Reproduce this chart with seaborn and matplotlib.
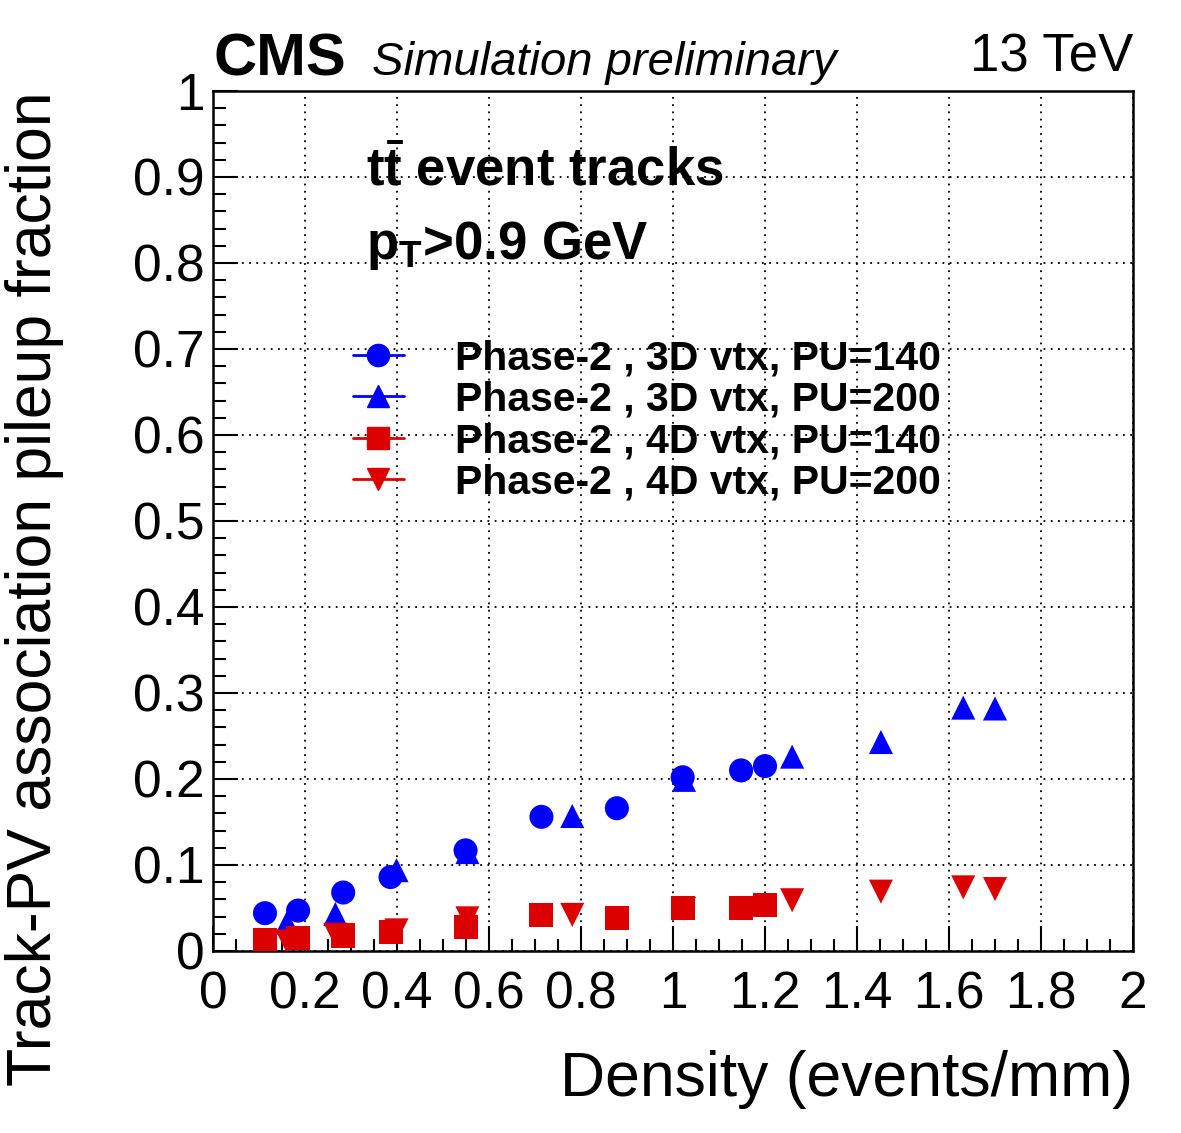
import matplotlib
matplotlib.use('Agg')
import matplotlib.pyplot as plt
from matplotlib.lines import Line2D
from matplotlib.ticker import MultipleLocator, FormatStrFormatter
import numpy as np
import pandas as pd
import seaborn as sns

# values
x_pu140 = [0.113, 0.185, 0.283, 0.386, 0.549, 0.714, 0.878, 1.021, 1.148, 1.200]
x_pu200 = [0.161, 0.266, 0.399, 0.553, 0.781, 1.024, 1.259, 1.452, 1.631, 1.700]
frac_3d_pu140 = [0.044, 0.047, 0.068, 0.086, 0.117, 0.156, 0.166, 0.202, 0.210, 0.215]
frac_3d_pu200 = [0.033, 0.043, 0.094, 0.115, 0.157, 0.199, 0.226, 0.243, 0.283, 0.282]
frac_4d_pu140 = [0.013, 0.015, 0.018, 0.022, 0.028, 0.042, 0.038, 0.050, 0.050, 0.053]
frac_4d_pu200 = [0.011, 0.019, 0.024, 0.038, 0.042, 0.049, 0.059, 0.069, 0.074, 0.072]

labels = ['Phase-2 , 3D vtx, PU=140', 'Phase-2 , 3D vtx, PU=200',
          'Phase-2 , 4D vtx, PU=140', 'Phase-2 , 4D vtx, PU=200']
colors = {labels[0]: '#0000ff', labels[1]: '#0000ff',
          labels[2]: '#dd0000', labels[3]: '#dd0000'}
markers = {labels[0]: 'o', labels[1]: '^', labels[2]: 's', labels[3]: 'v'}

df = pd.concat([
    pd.DataFrame({'density': x_pu140, 'frac': frac_3d_pu140, 'series': labels[0]}),
    pd.DataFrame({'density': x_pu200, 'frac': frac_3d_pu200, 'series': labels[1]}),
    pd.DataFrame({'density': x_pu140, 'frac': frac_4d_pu140, 'series': labels[2]}),
    pd.DataFrame({'density': x_pu200, 'frac': frac_4d_pu200, 'series': labels[3]}),
], ignore_index=True)

sns.set_style('ticks')
plt.rcParams['font.family'] = ['Liberation Sans', 'DejaVu Sans']
plt.rcParams['mathtext.fontset'] = 'custom'
plt.rcParams['mathtext.rm'] = 'Liberation Sans'
plt.rcParams['mathtext.bf'] = 'Liberation Sans:bold'
for key in ['text.color', 'axes.labelcolor', 'xtick.color', 'ytick.color',
            'xtick.labelcolor', 'ytick.labelcolor']:
    plt.rcParams[key] = 'black'

fig = plt.figure(figsize=(11.81, 11.33), dpi=100)
ax = fig.add_axes([213/1181, 1-951/1133, 920/1181, 860/1133])

sns.scatterplot(data=df, x='density', y='frac', hue='series', style='series',
                palette=colors, markers=markers, s=300, linewidth=0,
                legend=False, ax=ax, zorder=3)

ax.set_xlim(0, 2)
ax.set_ylim(0, 1)
ax.xaxis.set_major_locator(MultipleLocator(0.2))
ax.xaxis.set_minor_locator(MultipleLocator(0.05))
ax.yaxis.set_major_locator(MultipleLocator(0.1))
ax.yaxis.set_minor_locator(MultipleLocator(0.02))
ax.xaxis.set_major_formatter(FormatStrFormatter('%g'))
ax.yaxis.set_major_formatter(FormatStrFormatter('%g'))
ax.tick_params(which='both', direction='in', width=1.5, labelsize=37, color='black')
ax.tick_params(axis='x', which='major', length=18, pad=14)
ax.tick_params(axis='x', which='minor', length=9)
ax.tick_params(axis='y', which='major', length=18, pad=6)
ax.tick_params(axis='y', which='minor', length=9)
ax.grid(True, which='major', color='black', linestyle=(0, (1, 3)), linewidth=1.3)
for sp in ax.spines.values():
    sp.set_linewidth(1.8)
    sp.set_color('black')

ax.set_xlabel('Density (events/mm)', fontsize=45, loc='right')
ax.set_ylabel('Track-PV association pileup fraction', fontsize=45, loc='top')
ax.xaxis.set_label_coords(1.0, -0.115)
ax.yaxis.set_label_coords(-0.162, 1.0)

# header
fig.text(213/1181, 1-75/1133, 'CMS', fontsize=43, fontweight='bold', ha='left', va='baseline')
fig.text(372/1181, 1-75/1133, 'Simulation preliminary', fontsize=34, style='italic',
         ha='left', va='baseline')
fig.text(1133/1181, 1-72/1133, '13 TeV', fontsize=38, ha='right', va='baseline')

# in-plot labels
ax.text(0.166, 0.89, r'$\mathbf{t\bar{t}}$ event tracks', transform=ax.transAxes,
        fontsize=38, fontweight='bold', ha='left', va='baseline')
ax.text(0.166, 0.805, r'$\mathbf{p_{T}}$>0.9 GeV', transform=ax.transAxes,
        fontsize=38, fontweight='bold', ha='left', va='baseline')

handles = [Line2D([], [], color=colors[l], marker=markers[l], markersize=16,
                  linewidth=2, linestyle='-', label=l) for l in labels]
ax.legend(handles=handles, loc='upper left', bbox_to_anchor=(0.152, 0.711),
          frameon=False, prop={'weight': 'bold', 'size': 29.5},
          handlelength=1.25, handletextpad=1.25, labelspacing=0.08, borderpad=0,
          borderaxespad=0)

plt.savefig('out.png', dpi=100)
